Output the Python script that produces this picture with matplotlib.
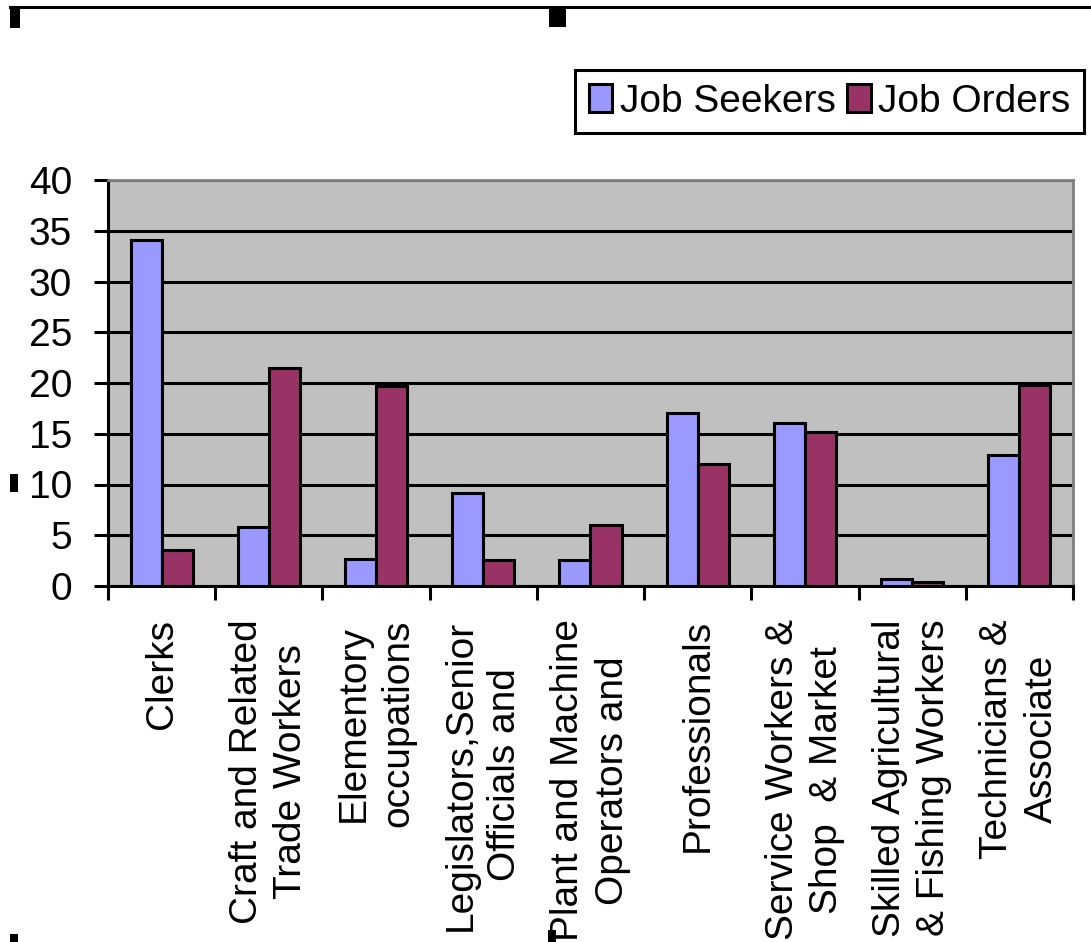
import numpy as np
import matplotlib
matplotlib.use('Agg')
import matplotlib.pyplot as plt
from matplotlib.patches import Rectangle
from matplotlib.lines import Line2D

# data
categories = ["Clerks",
              "Craft and Related\nTrade Workers",
              "Elementory\noccupations",
              "Legislators,Senior\nOfficials and",
              "Plant and Machine\nOperators and",
              "Professionals",
              "Service Workers &\nShop  & Market",
              "Skilled Agricultural\n& Fishing Workers",
              "Technicians &\nAssociate"]
job_seekers = [34.1, 5.8, 2.7, 9.2, 2.6, 17.0, 16.1, 0.7, 12.9]
job_orders = [3.5, 21.5, 19.7, 2.6, 6.0, 12.0, 15.2, 0.35, 19.8]
yticks = [0, 5, 10, 15, 20, 25, 30, 35, 40]

plt.rcParams['font.family'] = ['Liberation Sans', 'DejaVu Sans']

W, H = 1091, 942
fig = plt.figure(figsize=(W/100, H/100), dpi=100)
fig.patch.set_facecolor('white')

ax = fig.add_axes([108/W, 1-586/H, (1073-108)/W, (586-180)/H])
ax.set_facecolor('#C0C0C0')

x = np.arange(len(categories))
bw = 0.29
lw = 2.2
ax.bar(x-bw/2, job_seekers, bw, color='#9999FF', edgecolor='black', linewidth=lw, label='Job Seekers', zorder=3)
ax.bar(x+bw/2, job_orders, bw, color='#993366', edgecolor='black', linewidth=lw, label='Job Orders', zorder=3)

ax.set_xlim(-0.5, len(categories)-0.5)
ax.set_ylim(0, 40)
ax.set_yticks(yticks)
ax.set_yticklabels([str(v) for v in yticks], fontsize=28)
ax.yaxis.grid(True, color='black', linewidth=2.2, zorder=1)
ax.set_axisbelow(True)
ax.tick_params(axis='y', length=10, width=2.2, pad=16)

ax.set_xticks(x)
ax.set_xticklabels(categories, rotation=90, fontsize=28, va='top', ha='center',
                   multialignment='center', linespacing=1.3)
ax.set_xticks(np.arange(len(categories)+1)-0.5, minor=True)
ax.tick_params(axis='x', which='major', length=0, pad=24)
ax.tick_params(axis='x', which='minor', length=10, width=2.2)

for s in ['left', 'bottom']:
    ax.spines[s].set_color('black')
    ax.spines[s].set_linewidth(2.2)
for s in ['top', 'right']:
    ax.spines[s].set_color('#808080')
    ax.spines[s].set_linewidth(2)

leg = fig.legend(loc='upper left', bbox_to_anchor=(575/W, 1-70/H), ncol=2,
                 fontsize=28, frameon=True, fancybox=False, shadow=False,
                 handlelength=0.6, handleheight=0.7, handletextpad=0.2,
                 columnspacing=0.3, borderpad=0.35, borderaxespad=0)
leg.get_frame().set_edgecolor('black')
leg.get_frame().set_linewidth(2.2)
leg.get_frame().set_alpha(1)

# selection handles of the chart frame
def px_rect(x0, y0, x1, y1):
    fig.add_artist(Rectangle((x0/W, 1-y1/H), (x1-x0)/W, (y1-y0)/H,
                             transform=fig.transFigure, color='black', lw=0))

fig.add_artist(Line2D([10/W, 1], [1-7/H, 1-7/H], transform=fig.transFigure, color='black', lw=2.2))
px_rect(10, 6, 20, 28)
px_rect(549, 6, 566, 27)
px_rect(10, 474, 18, 492)
px_rect(10, 934, 18, 942)
px_rect(548, 930, 556, 942)

fig.savefig('out.png', dpi=100)
